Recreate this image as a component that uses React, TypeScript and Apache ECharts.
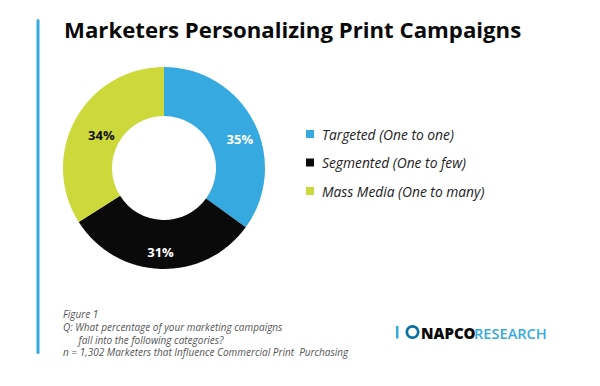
import React, { useEffect, useRef } from "react";
import * as echarts from "echarts";

const categories = ["Targeted (One to one)", "Segmented (One to few)", "Mass Media (One to many)"];
const values = [35, 31, 34];
const sliceColors = ["#36A9E1", "#0A0A0A", "#CDD83A"];
const labelColors = ["#FFFFFF", "#FFFFFF", "#111111"];
const labelFormats = ["{s|}\n{h|}{v|{c}%}", "{t|}\n{v|{c}%}{n|}", "{t|}\n{w|}{v|{c}%}"];
const titleText = "Marketers Personalizing Print Campaigns";
const footLines = [
  "Figure 1",
  "Q: What percentage of your marketing campaigns",
  "      fall into the following categories?",
  "n = 1,302 Marketers that Influence Commercial Print  Purchasing",
];

export default function App() {
  const ref = useRef<HTMLDivElement>(null);
  useEffect(() => {
    if (!ref.current) return;
    const chart = echarts.init(ref.current, null, { renderer: "svg" });
    const data = categories.map((name, i) => ({
      name,
      value: values[i],
      itemStyle: { color: sliceColors[i] },
      label: {
        formatter: labelFormats[i],
        rich: {
          v: {
            color: labelColors[i],
            fontFamily: "Open Sans",
            fontWeight: "bold",
            fontSize: 13,
            lineHeight: 16,
          },
        },
      },
    }));
    chart.setOption({
      animation: false,
      backgroundColor: "#FFFFFF",
      legend: {
        orient: "vertical",
        left: 301,
        top: 122,
        itemWidth: 8,
        itemHeight: 8,
        itemGap: 14.5,
        icon: "rect",
        data: categories,
        textStyle: {
          fontFamily: "Open Sans",
          fontStyle: "italic",
          fontSize: 13.8,
          color: "#222222",
          padding: [0, 0, 0, 3],
        },
      },
      series: [
        {
          type: "pie",
          center: [164, 168],
          radius: [52, 101],
          startAngle: 90,
          clockwise: true,
          silent: true,
          label: {
            show: true,
            position: "inside",
            rich: {
              s: { height: 14, width: 1 },
              t: { height: 10, width: 1 },
              h: { width: 10, height: 1 },
              w: { width: 14, height: 1 },
              n: { width: 2, height: 1 },
            },
          },
          labelLine: { show: false },
          data,
        },
      ],
      graphic: [
        { type: "rect", shape: { x: 36.5, y: 19, width: 3, height: 335, r: 1.5 }, style: { fill: "#36A9E1" } },
        {
          type: "text",
          x: 64,
          y: 18,
          style: {
            text: titleText,
            fontFamily: "Open Sans",
            fontWeight: "bold",
            fontSize: 22.2,
            fill: "#0A0A0A",
          },
        },
        ...footLines.map((t, i) => ({
          type: "text",
          x: 63,
          y: 314 + i * 12.8,
          style: {
            text: t,
            fontFamily: "Open Sans",
            fontStyle: "italic",
            fontSize: 10,
            fill: "#555555",
            verticalAlign: "middle",
          },
        })),
        { type: "rect", shape: { x: 396, y: 326, width: 2.5, height: 12.5 }, style: { fill: "#36A9E1" } },
        { type: "ring", shape: { cx: 412.5, cy: 332, r: 7, r0: 4.3 }, style: { fill: "#0B6FA4" } },
        {
          type: "text",
          x: 421,
          y: 332.5,
          style: {
            text: "NAPCO",
            fontFamily: "Open Sans",
            fontWeight: 800,
            fontSize: 15,
            fill: "#0A0A0A",
            verticalAlign: "middle",
          },
        },
        {
          type: "text",
          x: 474,
          y: 332.5,
          style: {
            text: "RESEARCH",
            fontFamily: "Open Sans",
            fontWeight: 600,
            fontSize: 14.6,
            fill: "#36A9E1",
            verticalAlign: "middle",
          },
        },
      ],
    });
    return () => chart.dispose();
  }, []);
  return <div ref={ref} style={{ position: "fixed", left: 0, top: 0, width: 600, height: 386 }} />;
}
